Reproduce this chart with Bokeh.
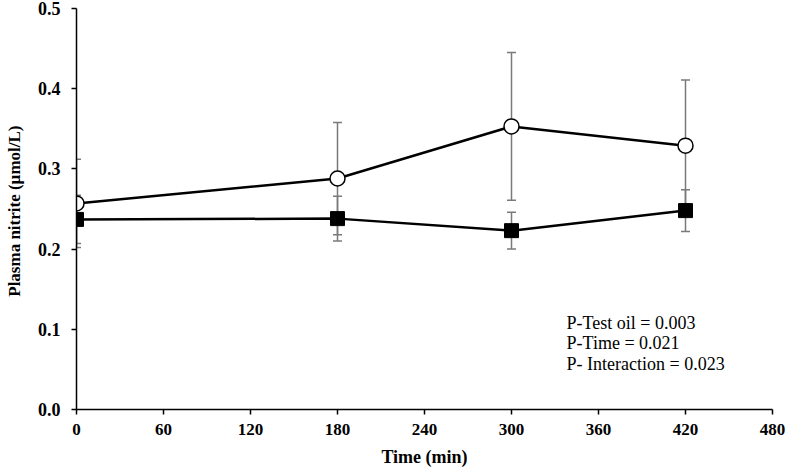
from bokeh.plotting import figure
from bokeh.models import ColumnDataSource, Whisker, TeeHead, FixedTicker, Label, PrintfTickFormatter, Range1d
from bokeh.embed import file_html
from bokeh.resources import INLINE

time_min = [0, 180, 300, 420]
circle_vals = [0.257, 0.288, 0.353, 0.329]
circle_err = [0.055, 0.070, 0.092, 0.082]
square_vals = [0.237, 0.238, 0.223, 0.248]
square_err = [0.030, 0.028, 0.023, 0.026]
x_ticks = [0, 60, 120, 180, 240, 300, 360, 420, 480]
y_ticks = [0.0, 0.1, 0.2, 0.3, 0.4, 0.5]
stats_text = ["P-Test oil = 0.003", "P-Time = 0.021", "P- Interaction = 0.023"]

FONT = "Liberation Serif"

p = figure(width=788, height=469, output_backend="svg", toolbar_location=None,
           x_range=Range1d(0, 480), y_range=Range1d(0, 0.5),
           min_border_left=76, min_border_right=16, min_border_top=8, min_border_bottom=60)
p.outline_line_color = None
p.xgrid.visible = False
p.ygrid.visible = False

c_src = ColumnDataSource(dict(x=time_min, y=circle_vals,
                              lo=[v - e for v, e in zip(circle_vals, circle_err)],
                              hi=[v + e for v, e in zip(circle_vals, circle_err)]))
s_src = ColumnDataSource(dict(x=time_min, y=square_vals,
                              lo=[v - e for v, e in zip(square_vals, square_err)],
                              hi=[v + e for v, e in zip(square_vals, square_err)]))

for src in (c_src, s_src):
    w = Whisker(source=src, base="x", lower="lo", upper="hi", line_color="#7a7a7a", line_width=1.5,
                upper_head=TeeHead(size=9, line_color="#7a7a7a", line_width=1.5),
                lower_head=TeeHead(size=9, line_color="#7a7a7a", line_width=1.5))
    p.add_layout(w)

p.line("x", "y", source=s_src, line_color="black", line_width=2.5)
p.scatter("x", "y", source=s_src, marker="square", size=14, fill_color="black", line_color="black")
p.line("x", "y", source=c_src, line_color="black", line_width=2.5)
p.scatter("x", "y", source=c_src, marker="circle", size=15, fill_color="white", line_color="black", line_width=1.5)

for ax in (p.xaxis[0], p.yaxis[0]):
    ax.axis_line_width = 1.5
    ax.axis_line_color = "black"
    ax.major_tick_line_color = "black"
    ax.major_tick_line_width = 1.5
    ax.major_tick_out = 5
    ax.major_tick_in = 0
    ax.minor_tick_line_color = None
    ax.major_label_text_font = FONT
    ax.major_label_text_font_style = "bold"
    ax.major_label_text_color = "black"
    ax.axis_label_text_font = FONT
    ax.axis_label_text_font_style = "bold"
    ax.axis_label_text_color = "black"

p.xaxis.major_label_text_font_size = "17px"
p.yaxis.major_label_text_font_size = "18px"
p.xaxis.axis_label_text_font_size = "18px"
p.yaxis.axis_label_text_font_size = "17px"
p.xaxis.ticker = FixedTicker(ticks=x_ticks)
p.yaxis.ticker = FixedTicker(ticks=y_ticks)
p.yaxis.formatter = PrintfTickFormatter(format="%.1f")
p.xaxis.axis_label = "Time (min)"
p.yaxis.axis_label = "Plasma nitrite  (\u00b5mol/L)"
p.xaxis.axis_label_standoff = 9
p.yaxis.axis_label_standoff = 11
p.xaxis.major_label_standoff = 9
p.yaxis.major_label_standoff = 11

for i, t in enumerate(stats_text):
    p.add_layout(Label(x=338, y=0.108 - i * 0.0255, text=t, text_font=FONT, text_font_size="18px",
                       text_color="black", text_baseline="middle"))

open("out.html", "w").write(file_html(p, INLINE))
